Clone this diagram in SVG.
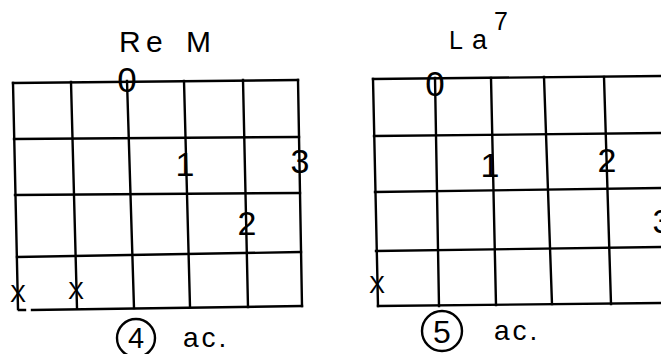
<svg xmlns="http://www.w3.org/2000/svg" width="661" height="354" viewBox="0 0 661 354">
<style>
.g{stroke:#000;stroke-width:2.4;fill:none;stroke-linecap:square}
.t{font-family:"Liberation Sans",Arial,sans-serif;fill:#000}
.d{font-size:34px;text-anchor:middle}
.z{font-size:35px;text-anchor:middle}
.x{font-size:24px;text-anchor:middle}
.ac{font-size:28px;letter-spacing:3px}
</style>
<rect width="661" height="354" fill="#fff"/>
<g id="chord-re-m">
<g class="g">
<path d="M13,83L298,80M14,139L299,137M15,195L300,193M17,257L301,252M32,310L302,306M19,310L25,310"/>
<path d="M13,83L18,309M71,82L77,308M127,81L134,308M184,81L190,307M243,80L248,307M298,80L302,306"/>
<circle cx="136" cy="338" r="19"/>
</g>
<text class="t" font-size="30"><tspan x="119" y="52">R</tspan><tspan x="146" y="52">e</tspan><tspan x="186" y="52">M</tspan></text>
<text class="t z" x="127" y="92">0</text>
<text class="t d" x="185" y="176">1</text>
<text class="t d" x="300" y="173">3</text>
<text class="t d" x="247" y="235">2</text>
<text class="t x" x="18" y="302">X</text>
<text class="t x" x="76" y="299">X</text>
<text class="t" x="136" y="348" font-size="29" text-anchor="middle">4</text>
<text class="t ac" x="183" y="347">ac.</text>
</g>
<g id="chord-la7">
<g class="g">
<path d="M373,79L661,76M374,136L661,133M375,192L661,188M376,251L661,247M378,306L661,303"/>
<path d="M373,79L378,306M435,78L439,306M491,78L496,305M544,77L552,304M604,77L611,304"/>
<circle cx="442" cy="331" r="20"/>
</g>
<text class="t" font-size="25" y="49"><tspan x="449">L</tspan><tspan x="472" dx="0" font-size="27">a</tspan></text>
<text class="t" font-size="25" x="494" y="30">7</text>
<text class="t z" x="435" y="96">0</text>
<text class="t d" x="490" y="177">1</text>
<text class="t d" x="607" y="172">2</text>
<text class="t d" x="662" y="233">3</text>
<text class="t x" x="377" y="293">X</text>
<text class="t" x="442" y="343" font-size="32" text-anchor="middle">5</text>
<text class="t ac" x="494" y="340" letter-spacing="5">ac.</text>
</g>
<g id="connectors"/>
</svg>
